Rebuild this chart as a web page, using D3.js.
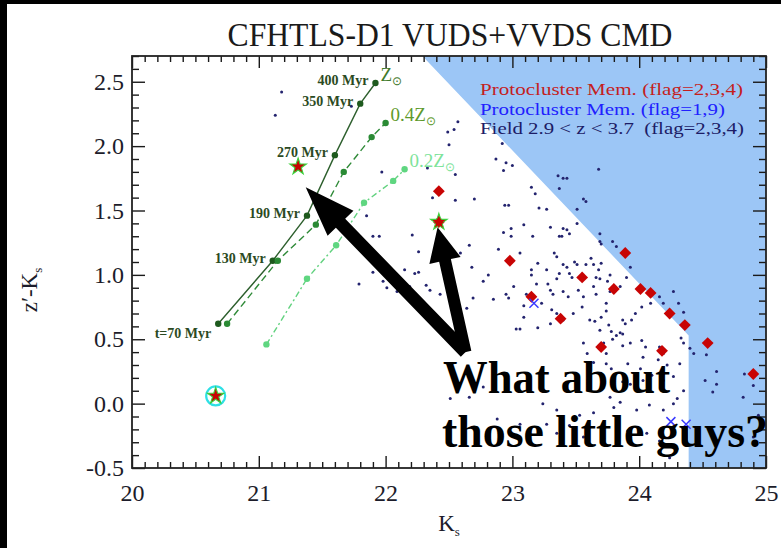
<!DOCTYPE html>
<html>
<head>
<meta charset="utf-8">
<script src="https://cdn.jsdelivr.net/npm/d3@7/dist/d3.min.js"></script>
<style>
  html, body { margin: 0; padding: 0; background: #fff; }
  svg { display: block; }
  text { font-family: "Liberation Serif", "Times New Roman", serif; }
</style>
</head>
<body>
<svg id="chart" width="781" height="548"></svg>
<script>
// ---- Data: K_s magnitude vs z'-K_s colour ----
// Model tracks, one point per age
const solarTrack = [[20.68,0.62],[21.11,1.11],[21.38,1.46],[21.60,1.93],[21.80,2.33],[21.92,2.49]];
const solarAges  = ["t=70 Myr","130 Myr","190 Myr","270 Myr","350 Myr","400 Myr"];
const track04    = [[20.75,0.62],[21.15,1.11],[21.45,1.39],[21.67,1.80],[21.89,2.07],[22.00,2.18]];
const track02    = [[21.06,0.46],[21.38,0.97],[21.61,1.23],[21.83,1.56],[22.06,1.73],[22.15,1.82]];

// Protocluster members, secure flags (2,3,4)
const members = [[22.42,1.65],[22.42,1.41],[22.98,1.11],[23.89,1.17],[23.55,0.98],[23.15,0.83],
  [23.80,0.89],[24.01,0.89],[24.09,0.86],[23.38,0.66],[24.24,0.70],[24.36,0.61],[24.54,0.47],
  [23.70,0.44],[24.18,0.41],[24.90,0.23]];
// Protocluster members, flags 1,9
const membersLowFlag = [[23.17,0.78],[24.25,-0.14],[24.37,-0.16]];
// Highlighted objects
const starred = [[21.31,1.84],[22.42,1.41],[20.66,0.06]];
const circled = [[20.66,0.06]];

// Field galaxies 2.9 < z < 3.7
const field = [
 [22.57,2.19],[22.54,2.13],[22.49,2.11],[22.50,2.01],[22.87,1.90],[23.00,1.85],[22.93,1.81],[22.33,1.83],[22.55,1.78],[21.97,1.80],
 [23.68,1.82],[23.36,1.77],[23.40,1.75],[23.43,1.75],[23.37,1.67],[23.15,1.68],[23.18,1.63],[23.56,1.59],[23.58,1.57],[22.70,1.59],
 [22.55,1.58],[22.94,1.54],[22.97,1.54],[23.21,1.52],[23.27,1.51],[23.51,1.51],[21.85,1.46],[23.51,1.40],[23.09,1.39],[23.30,1.37],
 [23.40,1.36],[23.43,1.35],[22.99,1.36],[22.93,1.33],[22.21,1.31],[21.95,1.30],[23.37,1.30],[23.39,1.30],[23.45,1.32],[23.69,1.32],
 [22.99,1.30],[23.16,1.30],[23.69,1.26],[23.70,1.24],[23.79,1.26],[23.82,1.22],[22.89,1.20],[22.66,1.23],[23.06,1.17],[23.33,1.17],
 [23.35,1.14],[23.40,1.08],[23.43,1.06],[23.49,1.10],[23.51,1.08],[23.62,1.13],[23.64,1.08],[23.70,1.09],[22.59,1.17],[22.23,1.01],
 [22.26,1.02],[21.90,1.02],[21.98,0.95],[21.79,0.93],[22.19,0.91],[22.09,0.87],[22.32,0.92],[22.35,0.88],[22.68,1.06],[22.77,0.95],
 [22.81,1.00],[23.15,1.04],[23.15,1.00],[23.20,1.09],[23.27,1.04],[23.28,0.93],[23.30,0.88],[23.32,0.85],[23.35,0.97],[23.37,1.01],
 [23.45,1.01],[23.47,0.98],[23.58,1.08],[23.66,0.98],[23.68,1.04],[23.69,0.97],[23.77,1.00],[23.75,0.95],[23.64,0.91],[23.66,0.85],
 [23.40,0.87],[23.44,0.83],[23.52,0.88],[23.56,0.83],[23.74,0.78],[23.77,0.87],[23.85,0.91],[23.90,0.98],[23.93,1.06],[23.11,0.85],
 [23.19,0.93],[23.01,0.91],[22.95,0.85],[22.97,0.82],[22.85,0.81],[22.69,0.82],[22.55,0.75],[22.64,0.74],[22.43,0.85],[23.09,0.76],
 [23.23,0.78],[23.31,0.73],[23.35,0.70],[23.09,0.67],[23.03,0.58],[23.06,0.58],[23.20,0.59],[23.30,0.62],[23.40,0.65],[23.48,0.70],
 [23.55,0.75],[23.61,0.65],[23.65,0.64],[23.70,0.67],[23.74,0.72],[23.76,0.61],[23.78,0.56],[23.82,0.53],[23.85,0.55],[23.87,0.54],
 [23.87,0.65],[23.89,0.62],[23.94,0.65],[23.97,0.70],[24.02,0.75],[24.09,0.78],[24.16,0.83],[24.19,0.78],[24.27,0.87],[24.31,0.78],
 [24.35,0.71],[24.33,0.51],[24.35,0.47],[24.40,0.43],[24.43,0.39],[24.53,0.38],[24.61,0.25],[24.61,0.15],[24.58,0.09],[24.82,0.05],
 [24.83,0.23],[24.90,0.14],[24.94,-0.09],[24.90,-0.26],[24.16,0.44],[24.19,0.39],[24.15,0.34],[24.03,0.36],[24.01,0.27],[23.91,0.31],
 [24.02,0.49],[24.05,0.44],[23.93,0.47],[23.87,0.45],[23.79,0.50],[23.69,0.57],[23.72,0.47],[23.74,0.39],[23.56,0.47],[23.59,0.39],
 [23.64,0.32],[23.74,0.31],[23.78,0.27],[23.87,0.17],[23.93,0.15],[24.03,0.18],[24.10,0.22],[24.22,0.30],[24.19,0.18],[24.27,0.21],
 [24.32,0.31],[24.35,0.10],[24.30,0.04],[24.27,0.00],[24.19,-0.05],[24.08,-0.01],[23.98,-0.05],[23.85,0.01],[23.80,-0.03],[23.77,0.05],
 [23.64,-0.07],[23.53,-0.09],[23.45,-0.17],[23.35,-0.05],[23.24,0.00],[22.95,0.18],[22.77,0.13],[22.66,0.05],[22.51,0.04],[22.88,-0.12],
 [23.06,-0.16],[23.27,-0.16],[23.35,-0.23],[23.56,-0.26],[23.72,-0.27],[23.91,-0.21],[24.16,-0.29],[24.30,-0.35],[24.24,-0.42],[24.06,-0.23],
 [24.52,0.18],[21.18,2.42],[21.13,2.24],[21.73,2.31],[21.90,1.30],[22.26,1.18],[22.01,0.90],[22.15,1.04],[22.37,1.60],[22.92,2.02],
 [22.95,1.87]
];

// Region beyond the survey depth (z' limit and K_s limit)
const magLimit = [[22.29,2.7],[25,2.7],[25,-0.5],[24.39,-0.5],[24.39,0.53]];

// Annotation arrows (tail -> tip) in data units
const arrows = [
  {from:[22.63,0.40], to:[21.37,1.68], shaft:13, headLen:50, headW:36},
  {from:[22.63,0.40], to:[22.41,1.37], shaft:12, headLen:34, headW:32}
];

const xTicks = [20,21,22,23,24,25];
const yTicks = [-0.5,0,0.5,1,1.5,2,2.5];
const xDomain = [20,25];
const yDomain = [-0.5,2.7];

// ---- Layout ----
const W = 781, H = 548;
const plot = {left:132, right:766, top:56, bottom:468};

const svg = d3.select("#chart");
const x = d3.scaleLinear(xDomain, [plot.left, plot.right]);
const y = d3.scaleLinear(yDomain, [plot.bottom, plot.top]);

svg.append("rect").attr("width", W).attr("height", H).attr("fill", "#fff");

svg.append("defs").append("clipPath").attr("id", "clip")
  .append("rect").attr("x", plot.left).attr("y", plot.top)
  .attr("width", plot.right - plot.left).attr("height", plot.bottom - plot.top);

const g = svg.append("g").attr("clip-path", "url(#clip)");

// Shaded unreachable region
g.append("path")
  .attr("d", d3.line().x(d => x(d[0])).y(d => y(d[1]))(magLimit) + "Z")
  .attr("fill", "#9cc6f6");

// Model tracks
const line = d3.line().x(d => x(d[0])).y(d => y(d[1]));
const tracks = [
  {data: solarTrack, stroke: "#2d5f2d", fill: "#1e5a1e", dash: null},
  {data: track04,    stroke: "#2f8a38", fill: "#2a8a34", dash: "7,4"},
  {data: track02,    stroke: "#62d27f", fill: "#5fd680", dash: "6,3,2,3"}
];
tracks.forEach(t => {
  g.append("path").attr("d", line(t.data)).attr("fill", "none")
    .attr("stroke", t.stroke).attr("stroke-width", 1.4)
    .attr("stroke-dasharray", t.dash);
  g.selectAll(null).data(t.data).join("circle")
    .attr("cx", d => x(d[0])).attr("cy", d => y(d[1])).attr("r", 3.2)
    .attr("fill", t.fill);
});

// Field galaxies
g.selectAll(".field").data(field).join("circle").attr("class", "field")
  .attr("cx", d => x(d[0])).attr("cy", d => y(d[1])).attr("r", 1.5)
  .attr("fill", "#23236e");

// Circled object
g.selectAll(".ring").data(circled).join("circle").attr("class", "ring")
  .attr("cx", d => x(d[0])).attr("cy", d => y(d[1])).attr("r", 9.5)
  .attr("fill", "none").attr("stroke", "#2ee0e6").attr("stroke-width", 2.2);

// Protocluster members (diamonds)
const diamond = d3.symbol(d3.symbolSquare).size(70)();
g.selectAll(".mem").data(members).join("path").attr("class", "mem")
  .attr("d", diamond)
  .attr("transform", d => `translate(${x(d[0])},${y(d[1])}) rotate(45)`)
  .attr("fill", "#c80404");

// Stars
const star = d3.symbol(d3.symbolStar).size(85)();
g.selectAll(".star").data(starred).join("path").attr("class", "star")
  .attr("d", star)
  .attr("transform", d => `translate(${x(d[0])},${y(d[1])})`)
  .attr("fill", "#c80404").attr("stroke", "#3bd13b").attr("stroke-width", 1.1);
g.selectAll(".memc").data(members.filter(m => starred.some(s => s[0] === m[0] && s[1] === m[1])))
  .join("path").attr("class", "memc").attr("d", d3.symbol(d3.symbolSquare).size(45)())
  .attr("transform", d => `translate(${x(d[0])},${y(d[1])}) rotate(45)`)
  .attr("fill", "#c80404");

// Low-flag members (crosses)
g.selectAll(".lf").data(membersLowFlag).join("path").attr("class", "lf")
  .attr("d", "M-4.5,-4.5L4.5,4.5M-4.5,4.5L4.5,-4.5")
  .attr("transform", d => `translate(${x(d[0])},${y(d[1])})`)
  .attr("stroke", "#3a3aff").attr("stroke-width", 1.5).attr("fill", "none");

// ---- Track labels ----
const ageLab = svg.append("g").attr("font-size", 14).attr("font-weight", "bold").attr("fill", "#2b4a22");
ageLab.selectAll("text").data(solarTrack).join("text")
  .attr("x", d => x(d[0]) - 7)
  .attr("y", (d, i) => y(d[1]) + (i === 0 ? 14 : 2))
  .attr("text-anchor", "end")
  .text((d, i) => solarAges[i]);

function zLabel(pt, prefix, color) {
  const t = svg.append("text")
    .attr("x", x(pt[0]) + 5).attr("y", y(pt[1]) - 2)
    .attr("font-size", 19).attr("fill", color);
  t.append("tspan").text(prefix + "Z");
  t.append("tspan").attr("font-size", 12).attr("dy", 4).text("\u2299");
}
zLabel(solarTrack[solarTrack.length - 1], "", "#3f7a2c");
zLabel(track04[track04.length - 1], "0.4", "#5e9a2c");
zLabel(track02[track02.length - 1], "0.2", "#7ee39a");

// ---- Axes (ticks inward on all four sides) ----
const minorX = d3.range(200, 251).map(v => v / 10).filter(v => !xTicks.includes(v));
const minorY = d3.range(-5, 28).map(v => v / 10).filter(v => !yTicks.includes(v));
const fmt = d => d.toFixed(1);

function styleAxis(sel) {
  sel.select(".domain").remove();
  sel.selectAll("line").attr("stroke", "#1a1a1a").attr("stroke-width", 1.4);
  sel.selectAll("text").attr("font-family", "'Liberation Serif', serif")
    .attr("font-size", 24).attr("fill", "#1c1c2a");
}

svg.append("g").attr("transform", `translate(0,${plot.bottom})`)
  .call(d3.axisBottom(x).tickValues(xTicks).tickSize(-12).tickPadding(16).tickFormat(d3.format("d"))).call(styleAxis);
svg.append("g").attr("transform", `translate(0,${plot.bottom})`)
  .call(d3.axisBottom(x).tickValues(minorX).tickSize(-6).tickFormat("")).call(styleAxis);
svg.append("g").attr("transform", `translate(0,${plot.top})`)
  .call(d3.axisTop(x).tickValues(xTicks).tickSize(-12).tickFormat("")).call(styleAxis);
svg.append("g").attr("transform", `translate(0,${plot.top})`)
  .call(d3.axisTop(x).tickValues(minorX).tickSize(-6).tickFormat("")).call(styleAxis);

svg.append("g").attr("transform", `translate(${plot.left},0)`)
  .call(d3.axisLeft(y).tickValues(yTicks).tickSize(-13).tickPadding(8).tickFormat(fmt)).call(styleAxis);
svg.append("g").attr("transform", `translate(${plot.left},0)`)
  .call(d3.axisLeft(y).tickValues(minorY).tickSize(-7).tickFormat("")).call(styleAxis);
svg.append("g").attr("transform", `translate(${plot.right},0)`)
  .call(d3.axisRight(y).tickValues(yTicks).tickSize(-13).tickFormat("")).call(styleAxis);
svg.append("g").attr("transform", `translate(${plot.right},0)`)
  .call(d3.axisRight(y).tickValues(minorY).tickSize(-7).tickFormat("")).call(styleAxis);

svg.append("rect")
  .attr("x", plot.left).attr("y", plot.top)
  .attr("width", plot.right - plot.left).attr("height", plot.bottom - plot.top)
  .attr("fill", "none").attr("stroke", "#222").attr("stroke-width", 1.8);

// ---- Titles ----
svg.append("text").attr("x", 450).attr("y", 46).attr("text-anchor", "middle")
  .attr("font-size", 33).attr("fill", "#1a1a1a")
  .attr("textLength", 445).attr("lengthAdjust", "spacingAndGlyphs")
  .text("CFHTLS-D1 VUDS+VVDS CMD");

const xl = svg.append("text").attr("x", 449).attr("y", 531).attr("text-anchor", "middle")
  .attr("font-size", 23).attr("fill", "#1c1c2a");
xl.append("tspan").text("K");
xl.append("tspan").attr("font-size", 13).attr("dy", 5).text("s");

const yl = svg.append("text").attr("transform", "translate(37,290) rotate(-90)")
  .attr("text-anchor", "middle").attr("font-size", 23).attr("fill", "#1c1c2a");
yl.append("tspan").text("z\u2032-K");
yl.append("tspan").attr("font-size", 13).attr("dy", 5).text("s");

// ---- Legend ----
const legend = [
  {text: "Protocluster Mem. (flag=2,3,4)", color: "#c41e1e", y: 95, len: 263},
  {text: "Protocluster Mem. (flag=1,9)", color: "#2020ff", y: 115, len: 245},
  {text: "Field 2.9 < z < 3.7  (flag=2,3,4)", color: "#1c1c66", y: 134, len: 264}
];
svg.append("g").selectAll("text").data(legend).join("text")
  .attr("x", 480).attr("y", d => d.y).attr("font-size", 17.5)
  .attr("fill", d => d.color).attr("xml:space", "preserve").style("white-space", "pre")
  .attr("textLength", d => d.len).attr("lengthAdjust", "spacingAndGlyphs")
  .text(d => d.text);

// ---- Annotation arrows ----
function arrowPath(a) {
  const [x0, y0] = [x(a.from[0]), y(a.from[1])];
  const [x1, y1] = [x(a.to[0]), y(a.to[1])];
  const len = Math.hypot(x1 - x0, y1 - y0);
  const ux = (x1 - x0) / len, uy = (y1 - y0) / len;
  const nx = -uy, ny = ux;
  const bx = x1 - ux * a.headLen, by = y1 - uy * a.headLen;
  const s = a.shaft / 2, h = a.headW / 2;
  const p = [
    [x0 + nx * s, y0 + ny * s], [bx + nx * s, by + ny * s], [bx + nx * h, by + ny * h],
    [x1, y1],
    [bx - nx * h, by - ny * h], [bx - nx * s, by - ny * s], [x0 - nx * s, y0 - ny * s]
  ];
  return "M" + p.map(q => q.join(",")).join("L") + "Z";
}
svg.append("g").selectAll("path").data(arrows).join("path")
  .attr("d", arrowPath).attr("fill", "#000");

// ---- Annotation text ----
const note = svg.append("g").attr("font-size", 46).attr("font-weight", "bold").attr("fill", "#000");
note.append("text").attr("x", 443).attr("y", 393)
  .attr("textLength", 227).attr("lengthAdjust", "spacingAndGlyphs").text("What about");
note.append("text").attr("x", 442).attr("y", 447)
  .attr("textLength", 326).attr("lengthAdjust", "spacingAndGlyphs").text("those little guys?");

// Frame bars along the top and left edges
svg.append("rect").attr("x", 0).attr("y", 0).attr("width", W).attr("height", 4).attr("fill", "#000");
svg.append("rect").attr("x", 0).attr("y", 0).attr("width", 7).attr("height", H).attr("fill", "#000");
</script>
</body>
</html>
